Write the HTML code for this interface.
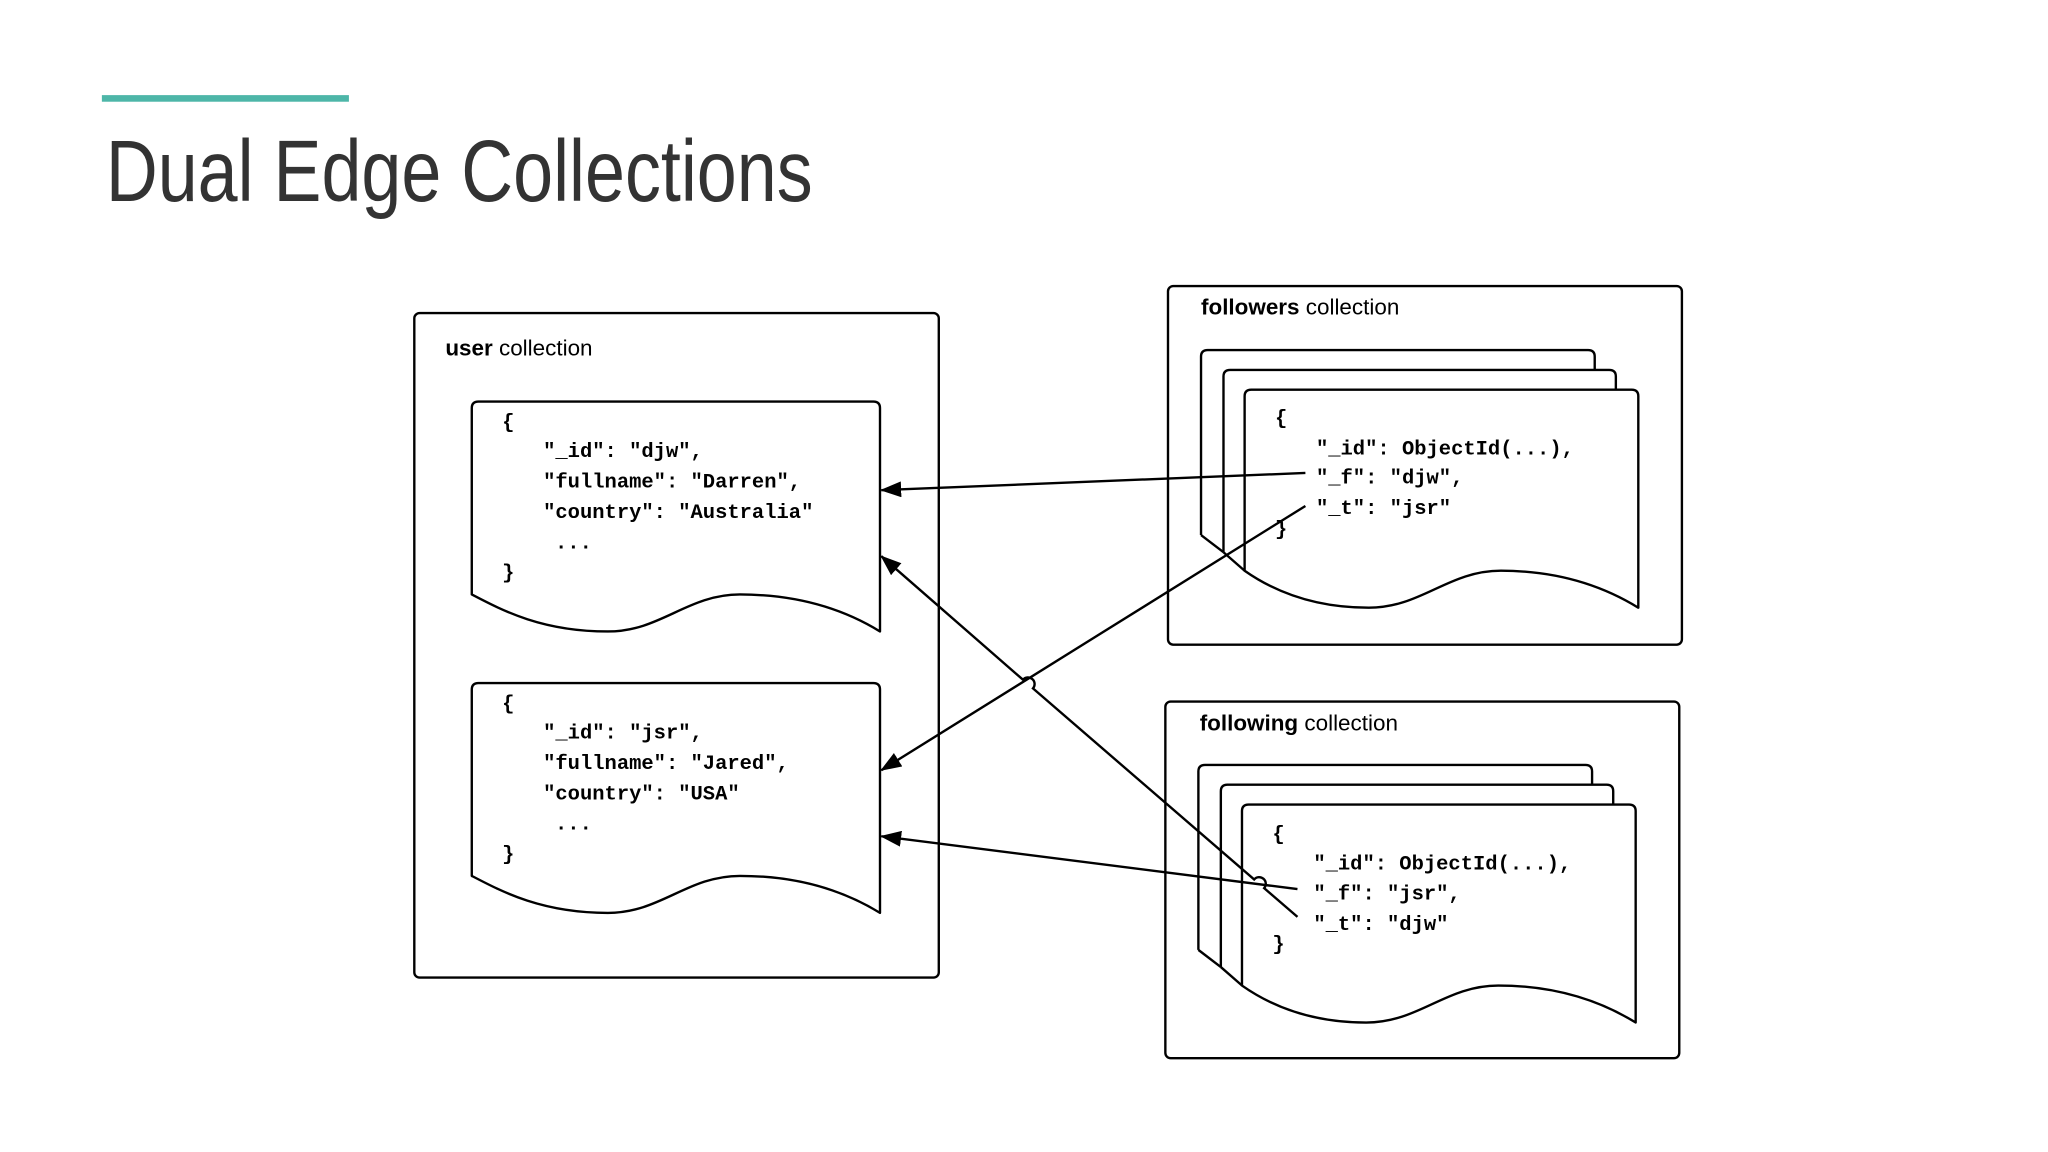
<!DOCTYPE html>
<html><head><meta charset="utf-8"><style>
html,body{margin:0;padding:0;background:#fff;}
svg{display:block;}
.mono{font-family:"Liberation Mono",monospace;font-weight:bold;font-size:15.5px;fill:#000;}
.lbl{font-family:"Liberation Sans",sans-serif;font-size:17px;fill:#000;}
</style></head><body>
<svg width="2048" height="1152" viewBox="0 0 1550 872" xmlns="http://www.w3.org/2000/svg">
<defs>
<marker id="ah" markerWidth="16" markerHeight="12" refX="15" refY="6" orient="auto" markerUnits="userSpaceOnUse">
<path d="M0,0 L16,6 L0,12 Z" fill="#000"/>
</marker>
</defs>
<rect x="77" y="72" width="187" height="5" fill="#4db6a8"/>
<text x="80" y="152" font-family="Liberation Sans, sans-serif" font-size="66" fill="#333" textLength="535" lengthAdjust="spacingAndGlyphs">Dual Edge Collections</text>

<g fill="#fff" stroke="#000" stroke-width="1.8">
<rect x="313.5" y="237" width="397" height="503" rx="4"/>
<rect x="884" y="216.5" width="389" height="271.5" rx="4"/>
<rect x="882" y="531" width="389" height="270" rx="4"/>
</g>
<text class="lbl" x="337" y="269"><tspan font-weight="bold">user</tspan> collection</text>
<text class="lbl" x="909" y="238"><tspan font-weight="bold">followers</tspan> collection</text>
<text class="lbl" x="908" y="553"><tspan font-weight="bold">following</tspan> collection</text>

<g fill="#fff" stroke="#000" stroke-width="1.8" stroke-linejoin="round">
<!-- user docs -->
<path d="M357,450 L357,309 Q357,304 362,304 L661,304 Q666,304 666,309 L666,478 C640,462 605,450 560,450 C520,450 500,478 460,478 C410,478 380,462 357,450 Z"/>
<path d="M357,663 L357,522 Q357,517 362,517 L661,517 Q666,517 666,522 L666,691 C640,675 605,663 560,663 C520,663 500,691 460,691 C410,691 380,675 357,663 Z"/>
</g>

<g id="stack" fill="#fff" stroke="#000" stroke-width="1.8" stroke-linejoin="round">
<path d="M909,405 L909,270 Q909,265 914,265 L1202,265 Q1207,265 1207,270 L1207,430 L909,430 Z" stroke="none"/>
<path d="M909,405 L909,270 Q909,265 914,265 L1202,265 Q1207,265 1207,270 L1207,290" fill="none"/>
<path d="M909,405 L926,418" fill="none"/>
<path d="M926,418 L926,285 Q926,280 931,280 L1218,280 Q1223,280 1223,285 L1223,300" />
<path d="M926,418 L942,432" fill="none"/>
<path d="M942,432 L942,300 Q942,295 947,295 L1235,295 Q1240,295 1240,300 L1240,460 C1214,444 1180,432 1136,432 C1096,432 1076,460 1036,460 C992,460 962,446 942,432 Z"/>
</g>
<text class="mono" x="965" y="321">{</text>
<text class="mono" x="996" y="344">"_id": ObjectId(...),</text>
<text class="mono" x="996" y="366">"_f": "djw",</text>
<text class="mono" x="996" y="389">"_t": "jsr"</text>
<text class="mono" x="965" y="405">}</text>

<g transform="translate(-2,314)" fill="#fff" stroke="#000" stroke-width="1.8" stroke-linejoin="round">
<path d="M909,405 L909,270 Q909,265 914,265 L1202,265 Q1207,265 1207,270 L1207,290" fill="none"/>
<path d="M909,405 L926,418" fill="none"/>
<path d="M926,418 L926,285 Q926,280 931,280 L1218,280 Q1223,280 1223,285 L1223,300" />
<path d="M926,418 L942,432" fill="none"/>
<path d="M942,432 L942,300 Q942,295 947,295 L1235,295 Q1240,295 1240,300 L1240,460 C1214,444 1180,432 1136,432 C1096,432 1076,460 1036,460 C992,460 962,446 942,432 Z"/>
</g>
<text class="mono" x="963" y="636">{</text>
<text class="mono" x="994" y="658">"_id": ObjectId(...),</text>
<text class="mono" x="994" y="681">"_f": "jsr",</text>
<text class="mono" x="994" y="704">"_t": "djw"</text>
<text class="mono" x="963" y="719">}</text>

<text class="mono" x="380" y="324">{</text>
<text class="mono" x="411" y="346">"_id": "djw",</text>
<text class="mono" x="411" y="369">"fullname": "Darren",</text>
<text class="mono" x="411" y="392">"country": "Australia"</text>
<text class="mono" x="420" y="415">...</text>
<text class="mono" x="380" y="438">}</text>

<text class="mono" x="380" y="537">{</text>
<text class="mono" x="411" y="559">"_id": "jsr",</text>
<text class="mono" x="411" y="582">"fullname": "Jared",</text>
<text class="mono" x="411" y="605">"country": "USA"</text>
<text class="mono" x="420" y="628">...</text>
<text class="mono" x="380" y="651">}</text>

<g fill="none" stroke="#000" stroke-width="1.8">
<path d="M988,358 L667,371" marker-end="url(#ah)"/>
<path d="M988,383 L667,583" marker-end="url(#ah)"/>
<path d="M982,673 L667,633" marker-end="url(#ah)"/>
<path d="M982,694 L956.8,672.3 A5,5 0 0 0 949.2,665.7 L781.8,521.1 A5,5 0 0 0 774.2,514.5 L667,421" marker-end="url(#ah)"/>
</g>
</svg>
</body></html>
